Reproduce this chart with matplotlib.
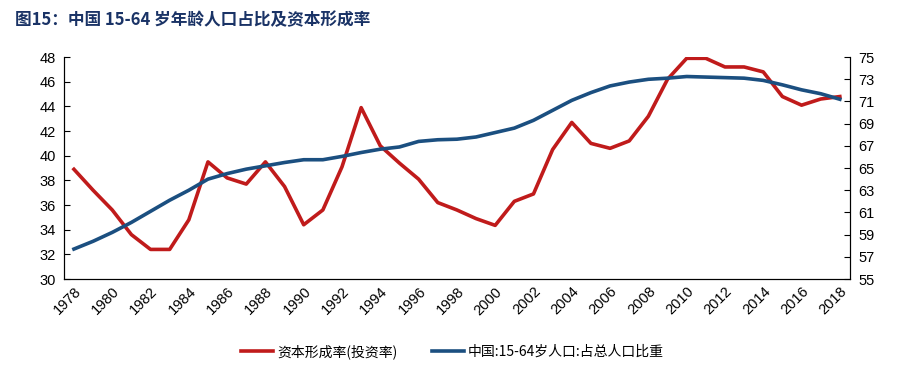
import matplotlib.pyplot as plt
import matplotlib.ticker as mticker

plt.rcParams['font.family'] = ['Liberation Sans', 'Noto Sans CJK SC', 'DejaVu Sans']

years = list(range(1978, 2019))

# 资本形成率(投资率), 左轴
invest = [38.9, 37.2, 35.6, 33.6, 32.4, 32.4, 34.8, 39.5, 38.2, 37.7,
          39.5, 37.5, 34.4, 35.6, 39.1, 43.9, 40.8, 39.4, 38.1, 36.2,
          35.6, 34.9, 34.35, 36.3, 36.9, 40.5, 42.7, 41.0, 40.6, 41.2,
          43.2, 46.2, 47.9, 47.9, 47.2, 47.2, 46.8, 44.8, 44.1, 44.6, 44.8]

# 中国:15-64岁人口:占总人口比重, 右轴
pop = [57.7, 58.4, 59.2, 60.1, 61.1, 62.1, 63.0, 64.0, 64.5, 64.9,
       65.2, 65.5, 65.75, 65.75, 66.05, 66.4, 66.7, 66.9, 67.4, 67.55,
       67.6, 67.8, 68.2, 68.6, 69.3, 70.2, 71.1, 71.8, 72.4, 72.75,
       73.0, 73.1, 73.25, 73.2, 73.15, 73.1, 72.9, 72.5, 72.05, 71.7, 71.2]

left_ticks = list(range(30, 49, 2))
right_ticks = list(range(55, 76, 2))

red = '#C01B1B'
blue = '#1B4F80'

fig = plt.figure(figsize=(9.05, 3.66), dpi=100)
ax1 = fig.add_axes([0.0707, 0.2377, 0.8683, 0.6063])
ax2 = ax1.twinx()

l1, = ax1.plot(years, invest, color=red, lw=2.6, label='资本形成率(投资率)')
l2, = ax2.plot(years, pop, color=blue, lw=2.6, label='中国:15-64岁人口:占总人口比重')

ax1.set_xlim(1977.48, 2018.52)
ax1.set_ylim(30, 48)
ax2.set_ylim(55, 75)
ax1.set_yticks(left_ticks)
ax2.set_yticks(right_ticks)
ax1.set_xticks(years[::2])
ax1.set_xticklabels([str(y) for y in years[::2]], rotation=45, ha='right',
                    rotation_mode='anchor')

for ax in (ax1, ax2):
    ax.spines['top'].set_visible(False)
    ax.tick_params(labelsize=10.5, direction='in', length=4, width=0.8)
    for s in ax.spines.values():
        s.set_linewidth(0.8)
ax1.tick_params(axis='x', length=0, pad=4)
ax1.tick_params(axis='y', pad=6)
ax2.tick_params(axis='y', pad=6)

fig.text(0.017, 0.945, '图15：中国 15-64 岁年龄人口占比及资本形成率',
         family=['Noto Sans CJK SC'], fontweight='bold', fontsize=12,
         color='#1A3366', va='center')

fig.legend(handles=[l1, l2], loc='center', bbox_to_anchor=(0.5, 0.04),
           ncol=2, frameon=False, handlelength=2.3,
           columnspacing=2.5, handletextpad=0.3,
           prop={'family': ['Noto Sans CJK SC', 'DejaVu Sans'], 'size': 10})

fig.savefig('out.png', dpi=100)
